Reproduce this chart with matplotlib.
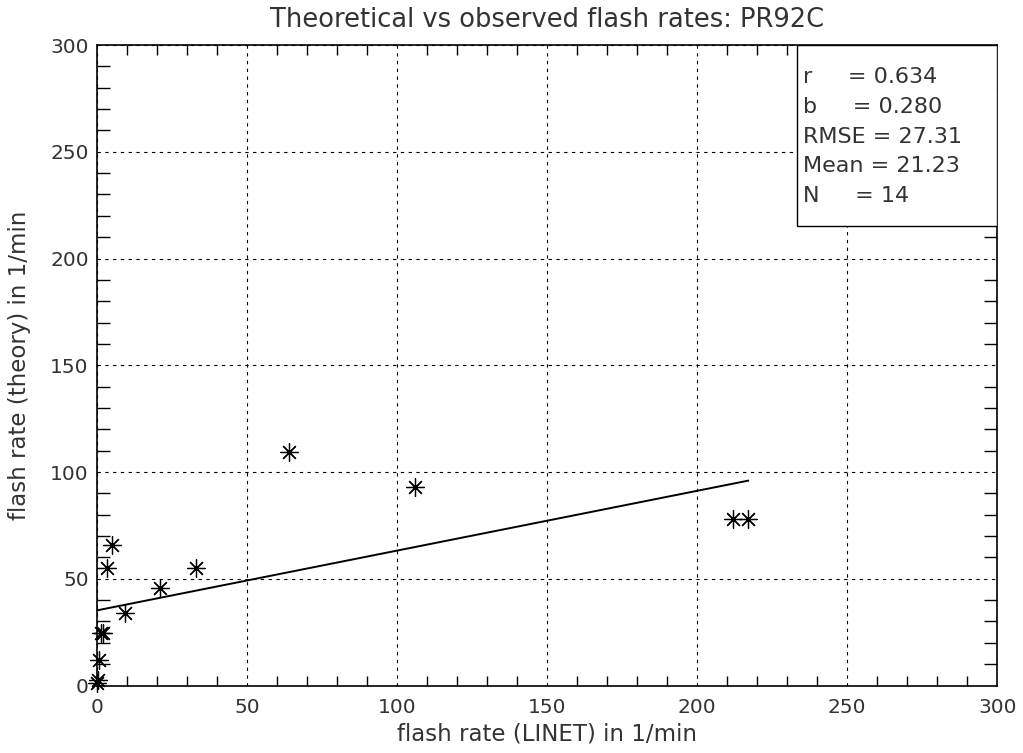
import matplotlib
matplotlib.use('Agg')
import matplotlib.pyplot as plt
import numpy as np
from matplotlib.ticker import MultipleLocator

# observed (LINET) vs theoretical flash rates
linet = [0.0, 0.5, 0.8, 1.2, 2.0, 3.2, 4.9, 9.3, 21.0, 33.0, 64.0, 106.0, 212.0, 217.0]
theory = [1.0, 2.5, 12.0, 24.5, 24.5, 55.0, 66.0, 34.0, 45.5, 55.0, 109.5, 93.0, 78.0, 78.0]

# regression line
fit_x = [0.0, 217.0]
fit_intercept = 35.2
fit_slope = 0.280

stats_labels = ['r     = 0.634', 'b     = 0.280', 'RMSE = 27.31', 'Mean = 21.23', 'N     = 14']

plt.rcParams['font.family'] = ['DejaVu Sans']
txt = '#333333'

fig = plt.figure(figsize=(10.23, 7.53), dpi=100)
ax = fig.add_axes([0.0948, 0.0896, 0.880, 0.8506])

ax.set_xlim(0, 300)
ax.set_ylim(0, 300)

ax.xaxis.set_major_locator(MultipleLocator(50))
ax.yaxis.set_major_locator(MultipleLocator(50))
ax.xaxis.set_minor_locator(MultipleLocator(10))
ax.yaxis.set_minor_locator(MultipleLocator(10))

ax.grid(True, which='major', color='black', linestyle=(0, (3, 4)), linewidth=0.8)
ax.tick_params(which='major', length=0, labelsize=14.5, labelcolor=txt)
ax.tick_params(axis='x', which='major', pad=9)
ax.tick_params(axis='y', which='major', pad=6)
ax.tick_params(axis='x', which='minor', direction='in', length=7, width=1,
               top=True, bottom=True)
ax.tick_params(axis='y', which='minor', direction='in', length=9.5, width=1,
               left=True, right=True)
for s in ax.spines.values():
    s.set_color('black')
    s.set_linewidth(1.2)

fy = [fit_intercept + fit_slope * v for v in fit_x]
ax.plot(fit_x, fy, color='black', linewidth=1.4, zorder=3)

ax.plot(linet, theory, linestyle='none', marker=(8, 2, 0), markersize=13,
        markeredgewidth=0.9, color='black', clip_on=False, zorder=4)

ax.set_title('Theoretical vs observed flash rates: PR92C', fontsize=18.5,
             color=txt, pad=13)
ax.set_xlabel('flash rate (LINET) in 1/min', fontsize=16.5, color=txt, labelpad=4)
ax.set_ylabel('flash rate (theory) in 1/min', fontsize=16.5, color=txt, labelpad=14)

# stats box in upper right
box = plt.Rectangle((0.778, 0.717), 0.222, 0.283, transform=ax.transAxes,
                    facecolor='white', edgecolor='black', linewidth=1.0, zorder=5)
ax.add_patch(box)
for i, s in enumerate(stats_labels):
    ax.text(0.784, 0.95 - i * 0.0465, s, transform=ax.transAxes, fontsize=16,
            color=txt, va='center', ha='left', zorder=6)

fig.savefig('out.png', dpi=100)
